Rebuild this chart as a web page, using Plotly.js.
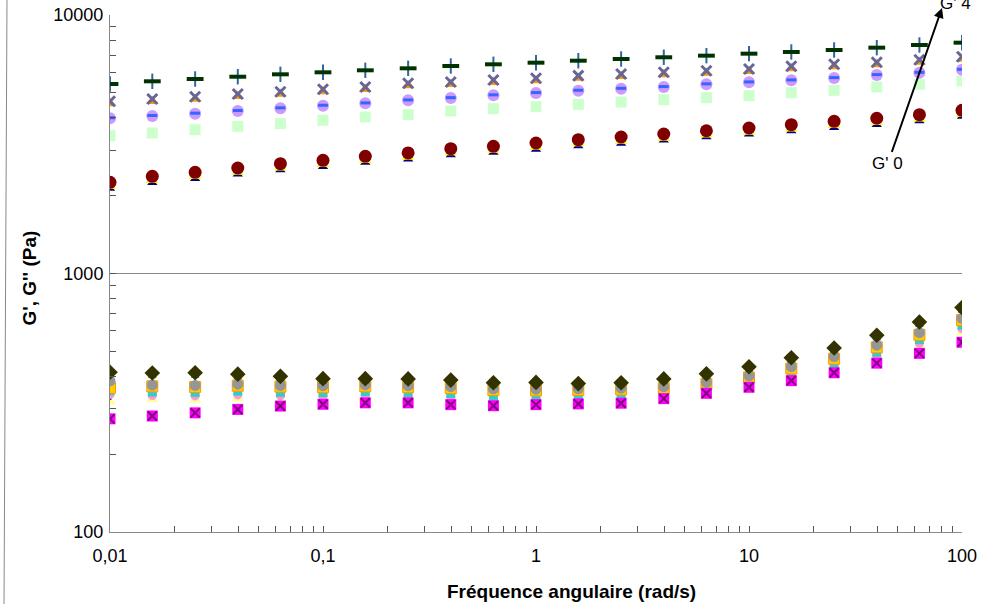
<!DOCTYPE html>
<html>
<head>
<meta charset="utf-8">
<script src="https://cdn.plot.ly/plotly-3.0.1.min.js"></script>
<style>html,body{margin:0;padding:0;background:#fff;}#chart{width:1000px;height:604px;}</style>
</head>
<body>
<div id="chart"></div>
<script>
// Angular frequency (rad/s)
const freq = [0.01,0.0158,0.0251,0.0398,0.0631,0.1,0.158,0.251,0.398,0.631,1,1.58,2.51,3.98,6.31,10,15.8,25.1,39.8,63.1,100];

// Upper group (G')
const gpPlus   = [5409,5540,5655,5771,5896,6002,6110,6220,6349,6446,6539,6656,6758,6862,6961,7086,7194,7323,7475,7656,7814];
const gpX      = [4636,4732,4830,4948,5050,5160,5267,5443,5506,5605,5691,5825,5914,6002,6088,6181,6332,6446,6561,6716,6898];
const gpOrange = [4545,4640,4735,4850,4950,5060,5165,5335,5400,5495,5580,5710,5800,5885,5970,6060,6210,6320,6430,6585,6760];
const gpPurple = [3986,4068,4152,4253,4357,4458,4554,4677,4774,4891,4992,5095,5186,5267,5394,5492,5590,5706,5860,5981,6143];
const gpDash   = [4005,4085,4170,4270,4375,4475,4570,4695,4790,4910,5010,5115,5205,5285,5415,5510,5610,5725,5880,6000,6165];
const gpGreen  = [3413,3496,3600,3710,3797,3914,4032,4115,4253,4341,4420,4514,4607,4703,4788,4874,5005,5114,5267,5394,5555];
const gpRed    = [2253,2377,2463,2559,2659,2741,2840,2926,3040,3105,3197,3293,3373,3465,3567,3655,3763,3879,3986,4115,4279];
const gpYellow = [2175,2295,2377,2470,2565,2645,2740,2825,2935,2995,3085,3180,3255,3345,3440,3525,3630,3745,3845,3970,4130];
const gpNavy   = [2130,2245,2325,2420,2515,2590,2685,2765,2875,2935,3020,3110,3185,3275,3370,3455,3555,3665,3765,3890,4045];

// Lower group (G'')
const gsDiamond = [415,412,413,408,400,392,392,391,387,378,379,375,378,391,409,436,472,515,577,649,738];
const gsGreen   = [411,408,409,403,396,388,388,387,383,374,376,371,374,387,404,432,468,510,571,643,730];
const gsGray    = [384,370,369,373,369,368,371,368,365,358,357,358,360,365,379,402,436,477,528,590,671];
const gsOrange  = [361,366,364,368,365,363,366,363,360,354,353,354,356,360,374,396,429,468,518,579,660];
const gsCyan    = [352,348,347,351,347,346,349,346,343,337,336,337,338,343,357,378,410,448,496,555,631];
const gsPink    = [340,337,336,339,336,335,338,335,332,326,325,326,327,332,345,366,397,434,480,537,611];
const gsBlue    = [330,333,332,336,332,331,334,331,328,322,321,322,324,328,341,362,392,429,475,531,604];
const gsYellow  = [319,326,325,328,325,324,327,324,321,315,314,315,317,321,334,354,384,420,465,519,590];
const gsMagenta = [274,281,289,298,307,312,316,316,311,308,311,313,315,328,344,363,385,413,450,491,542];

// Tick labels
const xTickVals = [0.01,0.1,1,10,100];
const xTickText = ["0,01","0,1","1","10","100"];
const yTickVals = [100,1000,10000];
const yTickText = ["100","1000","10000"];
const xMinor = [];
const yMinor = [];
[0.01,0.1,1,10].forEach(d => { for (let k=2;k<=9;k++) xMinor.push(d*k); });
[100,1000].forEach(d => { for (let k=2;k<=9;k++) yMinor.push(d*k); });

function tr(y, symbol, size, color, lineWidth, lineColor) {
  return {
    x: freq, y: y, type: 'scatter', mode: 'markers', hoverinfo: 'skip', showlegend: false,
    marker: {symbol: symbol, size: size, color: color,
             line: {width: lineWidth || 0, color: lineColor || color}}
  };
}

const traces = [
  // upper
  tr(gpNavy, 'triangle-up', 9, '#000080'),
  tr(gpYellow, 'triangle-up', 11, '#FFFF00'),
  tr(gpRed, 'circle', 13, '#800000'),
  tr(gpGreen, 'square', 11, '#CCFFCC'),
  tr(gpPurple, 'circle', 12, '#CC99FF'),
  tr(gpDash, 'line-ew-open', 7, '#3366FF', 3, '#3366FF'),
  tr(gpOrange, 'triangle-up', 11, '#FF9900'),
  tr(gpX, 'x-thin-open', 10, '#666699', 3, '#666699'),
  tr(gpPlus, 'line-ns-open', 11, '#336699', 2, '#336699'),
  tr(gpPlus, 'line-ew-open', 12, '#003300', 4, '#003300'),
  // lower
  tr(gsYellow, 'triangle-up', 11, '#FFFF99'),
  tr(gsBlue, 'circle', 4, '#0000FF'),
  tr(gsPink, 'circle', 9, '#FF99CC'),
  tr(gsCyan, 'square', 9, '#33CCCC'),
  tr(gsOrange, 'square', 11, '#FFCC00', 1, '#FF9900'),
  tr(gsGray, 'circle', 11, '#969696'),
  tr(gsGreen, 'square', 8, '#339966'),
  tr(gsDiamond, 'diamond', 12, '#333300'),
  tr(gsMagenta, 'square', 11, '#FF00FF'),
  tr(gsMagenta, 'x-thin-open', 9, '#800080', 2, '#800080')
];

const fontFam = 'Liberation Sans, Arial, sans-serif';

const layout = {
  width: 1000, height: 604,
  margin: {l: 110, r: 38, t: 15, b: 72},
  paper_bgcolor: '#ffffff', plot_bgcolor: '#ffffff',
  showlegend: false,
  font: {family: fontFam, size: 18, color: '#000'},
  xaxis: {
    type: 'log', range: [-2, 2],
    tickmode: 'array', tickvals: xTickVals, ticktext: xTickText,
    ticks: 'inside', ticklen: 6, tickcolor: '#555',
    showgrid: false, zeroline: false,
    showline: true, linecolor: '#888', linewidth: 1,
    tickfont: {family: fontFam, size: 18, color: '#000'},
    ticklabelstandoff: 7,
    minor: {tickmode: 'array', tickvals: xMinor, ticks: 'inside', ticklen: 6, tickcolor: '#555', showgrid: false}
  },
  yaxis: {
    type: 'log', range: [2, 4],
    tickmode: 'array', tickvals: yTickVals, ticktext: yTickText,
    ticks: 'inside', ticklen: 6, tickcolor: '#555',
    showgrid: true, gridcolor: '#888', gridwidth: 1, zeroline: false,
    showline: true, linecolor: '#888', linewidth: 1,
    tickfont: {family: fontFam, size: 18, color: '#000'},
    ticklabelstandoff: 2,
    minor: {tickmode: 'array', tickvals: yMinor, ticks: 'inside', ticklen: 6, tickcolor: '#555', showgrid: false}
  },
  shapes: [
    {type: 'line', xref: 'paper', yref: 'paper', x0: -0.1209, x1: -0.1244, y0: 1.03, y1: -0.14,
     line: {color: '#888', width: 1}}
  ],
  annotations: [
    {xref: 'paper', yref: 'paper', x: 0.542, y: -0.116, text: '<b>Fréquence angulaire (rad/s)</b>',
     showarrow: false, font: {family: fontFam, size: 19, color: '#000'}, xanchor: 'center', yanchor: 'middle'},
    {xref: 'paper', yref: 'paper', x: -0.094, y: 0.492, text: "<b>G', G'' (Pa)</b>", textangle: -90,
     showarrow: false, font: {family: fontFam, size: 19, color: '#000'}, xanchor: 'center', yanchor: 'middle'},
    {xref: 'paper', yref: 'paper', x: 0.9765, y: 1.0135, text: "G' 0",
     showarrow: true, arrowhead: 2, arrowsize: 1, arrowwidth: 2, arrowcolor: '#000',
     ax: -54, ay: 155, font: {family: fontFam, size: 17, color: '#000'}},
    {xref: 'paper', yref: 'paper', x: 0.9918, y: 1.022, text: "G' 4",
     showarrow: false, font: {family: fontFam, size: 17, color: '#000'}, xanchor: 'center', yanchor: 'middle'}
  ]
};

Plotly.newPlot('chart', traces, layout, {staticPlot: true, displayModeBar: false});
</script>
</body>
</html>
